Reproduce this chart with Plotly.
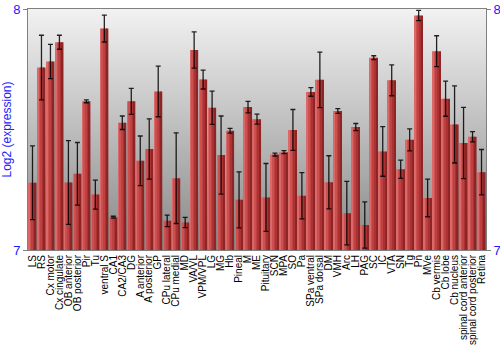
import base64
import plotly.graph_objects as go

categories = ["LS", "RS", "Cx motor", "Cx cingulate", "OB anterior", "OB posterior", "Pir", "Tu",
              "ventral S", "CA1", "CA2/CA3", "DG", "A anterior", "A posterior", "GP", "CPu lateral",
              "CPu medial", "MD", "VA/VL", "VPM/VPL", "LG", "MG", "Hb", "Pineal", "M", "ME",
              "Pituitary", "SCN", "MPA", "SO", "Pa", "SPa ventral", "SPa dorsal", "DM", "VMH", "Arc",
              "LH", "PAG", "SC", "IC", "VTA", "SN", "Tg", "Pn", "MVe", "Cb vermis", "Cb lobe",
              "Cb nucleus", "spinal cord anterior", "spinal cord posterior", "Retina"]

values = [7.279, 7.757, 7.782, 7.862, 7.280, 7.316, 7.617, 7.230, 7.919, 7.136,
          7.528, 7.617, 7.370, 7.419, 7.658, 7.121, 7.298, 7.114, 7.830, 7.707,
          7.590, 7.394, 7.495, 7.208, 7.593, 7.543, 7.218, 7.396, 7.406, 7.498,
          7.225, 7.656, 7.706, 7.281, 7.577, 7.153, 7.510, 7.104, 7.798, 7.409,
          7.704, 7.335, 7.457, 7.973, 7.216, 7.825, 7.628, 7.521, 7.444, 7.470, 7.323]

errors = [0.153, 0.134, 0.071, 0.029, 0.174, 0.130, 0.006, 0.060, 0.056, 0.004,
          0.028, 0.054, 0.103, 0.125, 0.105, 0.024, 0.188, 0.021, 0.075, 0.039,
          0.069, 0.162, 0.010, 0.116, 0.024, 0.021, 0.141, 0.006, 0.006, 0.085,
          0.096, 0.018, 0.115, 0.110, 0.010, 0.132, 0.015, 0.096, 0.008, 0.103,
          0.064, 0.038, 0.046, 0.021, 0.078, 0.064, 0.073, 0.160, 0.148, 0.021, 0.094]

y_ticks = [7, 8]

FONT = "Liberation Sans, Arial, sans-serif"
BLUE = "#1a1aff"
positions = list(range(len(categories)))

fig = go.Figure()

# horizontal gradient on bars, drawn as stripes
stripe_colors = ["#da6a6a", "#cc5050", "#be4040", "#aa3232", "#8e2424"]
bar_w = 0.9
sw = bar_w / len(stripe_colors)
for k, c in enumerate(stripe_colors):
    fig.add_trace(go.Bar(
        x=positions, y=values, width=sw, offset=-bar_w / 2 + k * sw,
        marker=dict(color=c, line=dict(width=0)), showlegend=False, hoverinfo="skip"))

# transparent full-width bar carrying the error bars
fig.add_trace(go.Bar(
    x=positions, y=values, width=bar_w,
    marker=dict(color="rgba(0,0,0,0)", line=dict(width=0)),
    error_y=dict(type="data", array=errors, visible=True, color="rgba(0,0,0,0.85)",
                 thickness=1.3, width=2.5),
    showlegend=False))

# invisible trace for right axis
fig.add_trace(go.Scatter(x=[positions[0]], y=[y_ticks[0]], yaxis="y2", mode="markers",
                         marker=dict(opacity=0), showlegend=False, hoverinfo="skip"))

svg = ('<svg xmlns="http://www.w3.org/2000/svg" width="100" height="100" preserveAspectRatio="none">'
       '<defs><linearGradient id="g" x1="0" y1="0" x2="0" y2="1">'
       '<stop offset="0" stop-color="#f2f2f2"/><stop offset="1" stop-color="#888888"/>'
       '</linearGradient></defs><rect width="100" height="100" fill="url(#g)"/></svg>')
src = "data:image/svg+xml;base64," + base64.b64encode(svg.encode()).decode()
fig.add_layout_image(dict(source=src, xref="paper", yref="paper", x=0, y=1, sizex=1, sizey=1,
                          sizing="stretch", layer="below", xanchor="left", yanchor="top"))

fig.update_layout(
    width=500, height=350,
    margin=dict(l=28, r=14, t=9, b=100, pad=0, autoexpand=False),
    paper_bgcolor="white", plot_bgcolor="white",
    barmode="overlay", bargap=0.1,
    font=dict(family=FONT, size=10, color="black"),
    xaxis=dict(
        range=[-0.5, len(categories) - 0.5], tickmode="array", tickvals=positions,
        ticktext=categories, tickangle=-90, ticks="", showgrid=False, zeroline=False,
        showline=True, linecolor="#808080", linewidth=1, mirror=True, automargin=False,
        tickfont=dict(family=FONT, size=10, color="black")),
    yaxis=dict(
        range=[y_ticks[0], y_ticks[-1]], tickvals=y_ticks, ticks="outside", ticklen=4,
        tickcolor="#808080", showgrid=False, zeroline=False, showline=True,
        linecolor="#808080", linewidth=1, mirror=True, automargin=False,
        tickfont=dict(family=FONT, size=13, color=BLUE),
        title=dict(text="Log2 (expression)", font=dict(family=FONT, size=12, color=BLUE),
                   standoff=2)),
    yaxis2=dict(
        range=[y_ticks[0], y_ticks[-1]], tickvals=y_ticks, overlaying="y", side="right",
        ticks="outside", ticklen=4, tickcolor="#808080", showgrid=False, zeroline=False,
        showline=False, automargin=False, tickfont=dict(family=FONT, size=13, color=BLUE)),
)

fig.write_html("out.html")
